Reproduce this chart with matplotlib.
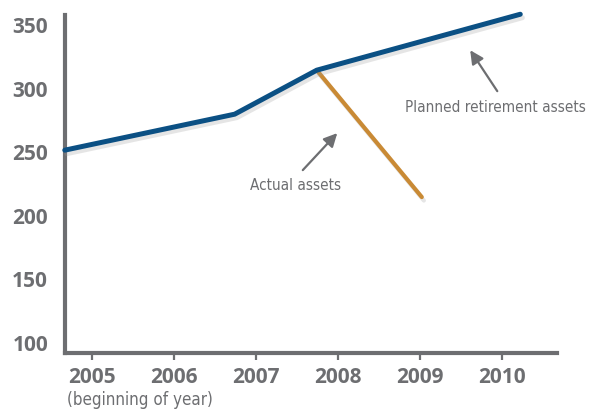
import matplotlib
matplotlib.use('Agg')
from matplotlib import pyplot as plt
import matplotlib.patheffects as pe

# planned path (quarter-year positions), actual assets branching off at the 2008 peak
planned_x = [2004.67, 2006.74, 2007.74, 2010.22]
planned_y = [251.7, 280.0, 314.6, 358.6]
actual_x = [2007.74, 2009.02]
actual_y = [314.6, 214.8]

year_ticks = [2005, 2006, 2007, 2008, 2009, 2010]
value_ticks = [100, 150, 200, 250, 300, 350]

blue = '#0b5084'
orange = '#c98a35'
grey = '#6d6e71'

fig = plt.figure(figsize=(5.89, 4.17), dpi=100)
ax = fig.add_axes([0.110, 0.153, 0.836, 0.811])

shadow = [pe.SimpleLineShadow(offset=(1.5, -2.5), shadow_color='#999999', alpha=0.25), pe.Normal()]
ax.plot(planned_x, planned_y, color=blue, lw=3.6, solid_capstyle='round',
        clip_on=False, zorder=3, path_effects=shadow)
ax.plot(actual_x, actual_y, color=orange, lw=3.0, solid_capstyle='round',
        clip_on=False, zorder=2, path_effects=shadow)

ax.set_xlim(2004.67, 2010.67)
ax.set_ylim(92, 358)

for s in ['top', 'right']:
    ax.spines[s].set_visible(False)
for s in ['left', 'bottom']:
    ax.spines[s].set_color(grey)
    ax.spines[s].set_linewidth(3)

ax.set_xticks(year_ticks)
ax.set_yticks(value_ticks)
ax.tick_params(axis='x', length=5, width=1.6, color=grey, pad=5,
               labelsize=15, labelcolor=grey)
ax.tick_params(axis='y', length=0, pad=12, labelsize=15, labelcolor=grey)
for lab in ax.get_xticklabels() + ax.get_yticklabels():
    lab.set_fontweight('bold')
    lab.set_family('Open Sans')

label_font = dict(family='DejaVu Sans', stretch='condensed', fontsize=11, color=grey)
arrow = dict(arrowstyle='-|>,head_length=0.8,head_width=0.4', color=grey, lw=1.6,
             shrinkA=0, shrinkB=0)
ax.annotate('', xy=(2009.61, 330.3), xytext=(2009.94, 298.1), arrowprops=arrow)
ax.text(2009.92, 285.5, 'Planned retirement assets', ha='center', va='center', **label_font)
ax.annotate('', xy=(2007.99, 265.1), xytext=(2007.57, 236.0), arrowprops=arrow)
ax.text(2007.48, 224.2, 'Actual assets', ha='center', va='center', **label_font)

fig.text(67 / 589, 1 - 400 / 417, '(beginning of year)', ha='left', va='center',
         **dict(label_font, fontsize=12.2))

fig.savefig('out.png', dpi=100, facecolor='white')
